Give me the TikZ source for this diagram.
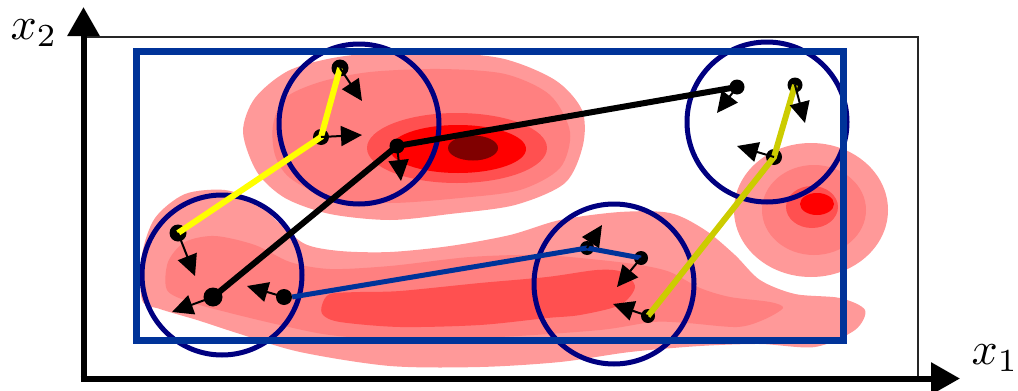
\documentclass[tikz,border=0pt]{standalone}
\usetikzlibrary{arrows.meta}
\definecolor{pinkA}{RGB}{255,153,153}
\definecolor{pinkB}{RGB}{255,128,128}
\definecolor{pinkC}{RGB}{255,80,80}
\definecolor{redD}{RGB}{255,0,0}
\definecolor{darkE}{RGB}{128,0,0}
\definecolor{boxblue}{RGB}{0,51,153}
\definecolor{ringnavy}{RGB}{0,0,128}
\definecolor{yel}{RGB}{255,255,0}
\definecolor{oliveyel}{RGB}{204,204,0}
\begin{document}
\begin{tikzpicture}[x=1pt,y=-1pt,
  agent/.style={circle,fill=black,inner sep=0pt,minimum size=#1},
  vec/.style={line width=2pt,-{Triangle[length=21pt,width=20pt]}},
  ring/.style={circle,draw=ringnavy,line width=5pt,inner sep=0pt,minimum size=160pt},
  axis/.style={line width=6pt,-{Triangle[length=29pt,width=31pt]}},
  trail/.style={line width=6pt}]
\useasboundingbox (0,0) rectangle (1018,391);

% density landscape: upper blob
\fill[pinkA] plot[smooth cycle] coordinates {(243,132) (255,98) (290,70) (345,56) (420,52) (500,58) (555,80) (582,110) (583,145) (565,183) (515,205) (450,214) (390,220) (330,214) (285,198) (257,172)};
\fill[pinkB] plot[smooth cycle] coordinates {(273,125) (285,98) (320,82) (370,72) (440,69) (505,74) (550,95) (570,132) (560,168) (520,190) (460,198) (390,203) (330,198) (290,178) (275,155)};
\fill[pinkC] (457,148) ellipse [x radius=90, y radius=35];
\fill[redD] (458,149) ellipse [x radius=68, y radius=24];
\fill[darkE] (473,148) ellipse [x radius=25, y radius=12.5];

% right blob
\fill[pinkA] (811,210) ellipse [x radius=77, y radius=67];
\fill[pinkB] (814,210) ellipse [x radius=52, y radius=45];
\fill[pinkC] (812,207) ellipse [x radius=26, y radius=21];
\fill[redD] (817,204) ellipse [x radius=17, y radius=11];

% long lower blob
\fill[pinkA] plot[smooth cycle] coordinates {(142,300) (142,255) (155,218) (185,194) (225,190) (257,202) (278,222) (305,244) (340,251) (390,252) (450,246) (510,235) (560,220) (620,212) (670,213) (705,230) (735,255) (760,280) (795,294) (840,298) (865,310) (855,330) (815,347) (760,344) (700,346) (630,352) (560,362) (480,367) (390,366) (300,352) (240,334) (197,320) (160,309)};
\fill[pinkB] plot[smooth cycle] coordinates {(167,290) (168,262) (185,242) (215,236) (255,245) (290,262) (330,269) (390,266) (470,257) (540,255) (600,260) (640,265) (670,272) (700,288) (730,297) (770,302) (783,308) (763,320) (737,327) (687,323) (653,322) (600,330) (500,337) (400,340) (330,335) (280,325) (230,313) (190,302)};
\fill[pinkC] plot[smooth cycle] coordinates {(322,305) (330,294) (360,292) (400,291) (480,283) (547,277) (597,270) (622,272) (635,287) (620,305) (580,315) (547,318) (480,325) (400,327) (340,322) (323,315)};

% frame and axes
\draw[line width=2pt,black!85] (84,37) rectangle (918,378.5);
\coordinate (ytip) at (83.5,7);
\coordinate (xtip) at (960,378.5);
\draw[axis] (83.5,381.5) -- (ytip);
\draw[axis] (80.5,378.5) -- (xtip);
\node[scale=4.6] (lx2) at (34,33) {$x_2$};
\node[scale=4.6] (lx1) at (995,358) {$x_1$};

% neighbourhood circles
\node[ring] (c1) at (359,124) {};
\node[ring] (c2) at (222,275) {};
\node[ring] (c3) at (614,284) {};
\node[ring] (c4) at (767,122) {};

% search box
\draw[boxblue,line width=7pt] (136.5,51) rectangle (843.5,340.5);

% particle positions
\node[agent=19pt] (b1) at (213,297) {};
\node[agent=15pt] (b2) at (397,146) {};
\node[agent=15pt] (b3) at (737,87) {};
\node[agent=17pt] (y1) at (178,233) {};
\node[agent=16pt] (y2) at (321,137) {};
\node[agent=17pt] (y3) at (340,68) {};
\node[agent=14pt] (o1) at (648,316) {};
\node[agent=16pt] (o2) at (774,157) {};
\node[agent=15pt] (o3) at (795,85) {};
\node[agent=16pt] (l1) at (284,297) {};
\node[agent=14pt] (l2) at (587,248) {};
\node[agent=14pt] (l3) at (641,258) {};

% trajectories
\draw[trail,black] (b1.center) -- (b2.center) -- (b3.center);
\draw[trail,yel] (y1.center) -- (y2.center) -- (y3.center);
\draw[trail,oliveyel] (o1.center) -- (o2.center) -- (o3.center);
\draw[boxblue,line width=5pt] (l1.east) -- (l2.center) -- (l3.center);

% velocity vectors
\coordinate (vb1) at (172,312);
\coordinate (vb2) at (401,181);
\coordinate (vb3) at (717,113);
\coordinate (vy1) at (195,276);
\coordinate (vy2) at (362,135);
\coordinate (vy3) at (362,101);
\coordinate (vo1) at (613,304);
\coordinate (vo2) at (737,146);
\coordinate (vo3) at (805,123);
\coordinate (vl1) at (247,286);
\coordinate (vl2) at (602,225);
\coordinate (vl3) at (617,287);
\draw[vec] (b1.center) -- (vb1);
\draw[vec] (b2.center) -- (vb2);
\draw[vec] (b3.center) -- (vb3);
\draw[vec] (y1.center) -- (vy1);
\draw[vec] (y2.center) -- (vy2);
\draw[vec] (y3.center) -- (vy3);
\draw[vec] (o1.center) -- (vo1);
\draw[vec] (o2.center) -- (vo2);
\draw[vec] (o3.center) -- (vo3);
\draw[vec] (l1.center) -- (vl1);
\draw[vec] (l2.center) -- (vl2);
\draw[vec] (l3.center) -- (vl3);
\end{tikzpicture}
\end{document}
